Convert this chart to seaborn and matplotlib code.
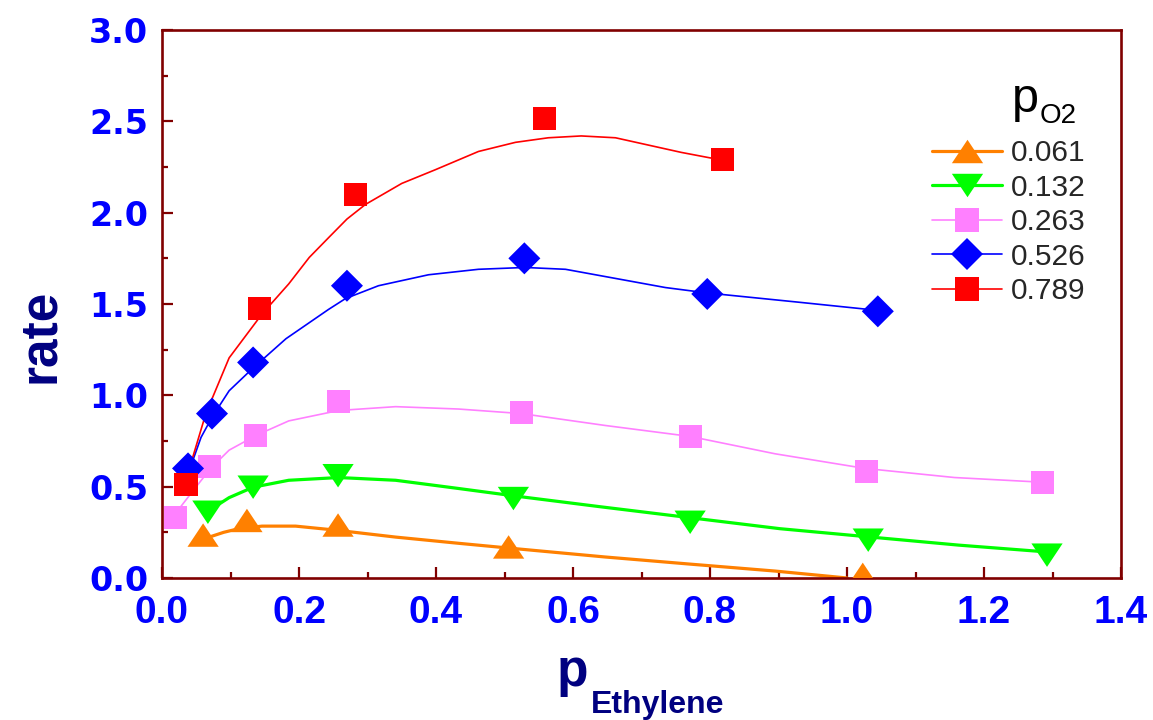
import matplotlib
matplotlib.use('Agg')
import matplotlib.pyplot as plt
from matplotlib.lines import Line2D
from matplotlib.ticker import MultipleLocator
import seaborn as sns

# measured points, one pair of lists per O2 pressure
p061_x = [0.060, 0.124, 0.257, 0.506, 1.023]
p061_y = [0.235, 0.315, 0.290, 0.170, 0.020]
p132_x = [0.067, 0.133, 0.257, 0.513, 0.771, 1.031, 1.292]
p132_y = [0.360, 0.497, 0.560, 0.435, 0.305, 0.207, 0.125]
p263_x = [0.020, 0.070, 0.137, 0.257, 0.525, 0.771, 1.028, 1.286]
p263_y = [0.333, 0.610, 0.780, 0.966, 0.905, 0.775, 0.585, 0.524]
p526_x = [0.038, 0.073, 0.133, 0.270, 0.529, 0.796, 1.045]
p526_y = [0.600, 0.900, 1.180, 1.600, 1.750, 1.555, 1.460]
p789_x = [0.035, 0.143, 0.283, 0.558, 0.818]
p789_y = [0.513, 1.473, 2.100, 2.515, 2.290]

# fitted curves
fit061_x = [0.069, 0.090, 0.112, 0.146, 0.195, 0.254, 0.341, 0.433, 0.506, 0.647, 0.771, 0.895, 1.000]
fit061_y = [0.224, 0.250, 0.270, 0.284, 0.284, 0.262, 0.224, 0.190, 0.164, 0.115, 0.076, 0.038, 0.000]
fit132_x = [0.069, 0.098, 0.133, 0.185, 0.258, 0.341, 0.433, 0.513, 0.640, 0.771, 0.902, 1.032, 1.163, 1.294]
fit132_y = [0.370, 0.440, 0.497, 0.535, 0.550, 0.535, 0.490, 0.450, 0.390, 0.330, 0.270, 0.225, 0.180, 0.142]
fit263_x = [0.020, 0.050, 0.071, 0.098, 0.137, 0.185, 0.258, 0.341, 0.433, 0.525, 0.647, 0.771, 0.895, 1.026, 1.157, 1.287]
fit263_y = [0.355, 0.500, 0.600, 0.700, 0.780, 0.860, 0.917, 0.938, 0.925, 0.900, 0.835, 0.775, 0.680, 0.600, 0.550, 0.524]
fit526_x = [0.039, 0.057, 0.073, 0.098, 0.133, 0.181, 0.243, 0.268, 0.316, 0.389, 0.462, 0.530, 0.589, 0.662, 0.735, 0.797, 0.929, 1.045]
fit526_y = [0.580, 0.770, 0.880, 1.025, 1.150, 1.310, 1.470, 1.530, 1.600, 1.660, 1.690, 1.700, 1.690, 1.640, 1.590, 1.560, 1.510, 1.465]
fit789_x = [0.036, 0.064, 0.098, 0.146, 0.163, 0.185, 0.215, 0.245, 0.270, 0.297, 0.350, 0.399, 0.462, 0.516, 0.564, 0.612, 0.662, 0.710, 0.758, 0.800, 0.818]
fit789_y = [0.550, 0.900, 1.205, 1.445, 1.517, 1.610, 1.755, 1.870, 1.965, 2.045, 2.160, 2.235, 2.335, 2.385, 2.410, 2.420, 2.410, 2.370, 2.330, 2.300, 2.290]

labels = ['0.061', '0.132', '0.263', '0.526', '0.789']
colors = ['#FF8000', '#00FF00', '#FF80FF', '#0000FF', '#FF0000']

tri_up = [(-1, -0.75), (1, -0.75), (0, 0.75)]
tri_down = [(-1, 0.75), (1, 0.75), (0, -0.75)]
markers = [tri_up, tri_down, 's', 'D', 's']
msizes = [22.5, 22.5, 16.6, 16.3, 16.6]
lwidths = [2.3, 2.3, 1.2, 1.2, 1.2]

points = [(p061_x, p061_y), (p132_x, p132_y), (p263_x, p263_y), (p526_x, p526_y), (p789_x, p789_y)]
fits = [(fit061_x, fit061_y), (fit132_x, fit132_y), (fit263_x, fit263_y), (fit526_x, fit526_y), (fit789_x, fit789_y)]

sns.set_style('white')
plt.rcParams['font.family'] = ['Liberation Sans', 'DejaVu Sans']

fig = plt.figure(figsize=(11.53, 7.2), dpi=100)
ax = fig.add_axes([162 / 1153, 1 - 578 / 720, (1121 - 162) / 1153, (578 - 30) / 720])

for i in range(5):
    fx, fy = fits[i]
    sns.lineplot(x=fx, y=fy, ax=ax, color=colors[i], linewidth=lwidths[i], zorder=2)
    px, py = points[i]
    sns.scatterplot(x=px, y=py, ax=ax, color=colors[i], marker=markers[i],
                    s=msizes[i] ** 2, linewidth=0, edgecolor='none', zorder=3)

ax.set(xlabel='', ylabel='')

maroon = '#800000'
for sp in ax.spines.values():
    sp.set_color(maroon)
    sp.set_linewidth(1.9)
    sp.set_visible(True)

ax.xaxis.set_major_locator(MultipleLocator(0.2))
ax.xaxis.set_minor_locator(MultipleLocator(0.1))
ax.yaxis.set_major_locator(MultipleLocator(0.5))
ax.yaxis.set_minor_locator(MultipleLocator(0.25))
ax.tick_params(which='both', direction='in', color=maroon, width=1.6,
               top=False, right=False, bottom=True, left=True)
ax.tick_params(which='major', length=8)
ax.tick_params(which='minor', length=4)
ax.tick_params(axis='x', which='major', pad=12, labelsize=28, labelcolor='#0000FF')
ax.tick_params(axis='y', which='major', pad=10, labelsize=24, labelcolor='#0000FF')
xt = [0.0, 0.2, 0.4, 0.6, 0.8, 1.0, 1.2, 1.4]
yt = [0.0, 0.5, 1.0, 1.5, 2.0, 2.5, 3.0]
ax.set_xticks(xt)
ax.set_xticklabels([f'{v:.1f}' for v in xt], fontweight='bold', family='Liberation Sans')
ax.set_yticks(yt)
ax.set_yticklabels([f'{v:.1f}' for v in yt], fontweight='bold', family='DejaVu Sans')
ax.set_xlim(0, 1.4)
ax.set_ylim(0, 3.0)

navy = '#000080'
fig.text(40 / 1153, 1 - 336 / 720, 'rate', rotation=90, ha='center', va='center',
         fontsize=37, fontweight='bold', color=navy)
fig.text(557 / 1153, 1 - 686 / 720, 'p', ha='left', va='baseline',
         fontsize=37, fontweight='bold', color=navy)
fig.text(591 / 1153, 1 - 713 / 720, 'Ethylene', ha='left', va='baseline',
         fontsize=23, fontweight='bold', color=navy)

# legend
handles = [Line2D([0], [0], color=colors[i], linewidth=lwidths[i], marker=markers[i],
                  markersize=msizes[i], markeredgewidth=0) for i in range(5)]
leg = fig.legend(handles, labels, loc='upper left', bbox_to_anchor=(932 / 1153, 1 - 139 / 720),
                 frameon=False, fontsize=21.5, handlelength=2.34, handletextpad=0.3,
                 labelspacing=0.22, borderpad=0, borderaxespad=0)
fig.text(1012 / 1153, 1 - 112 / 720, 'p', ha='left', va='baseline', fontsize=35, color='black')
fig.text(1040 / 1153, 1 - 123 / 720, 'O2', ha='left', va='baseline', fontsize=20, color='black')

fig.savefig('out.png', dpi=100)
